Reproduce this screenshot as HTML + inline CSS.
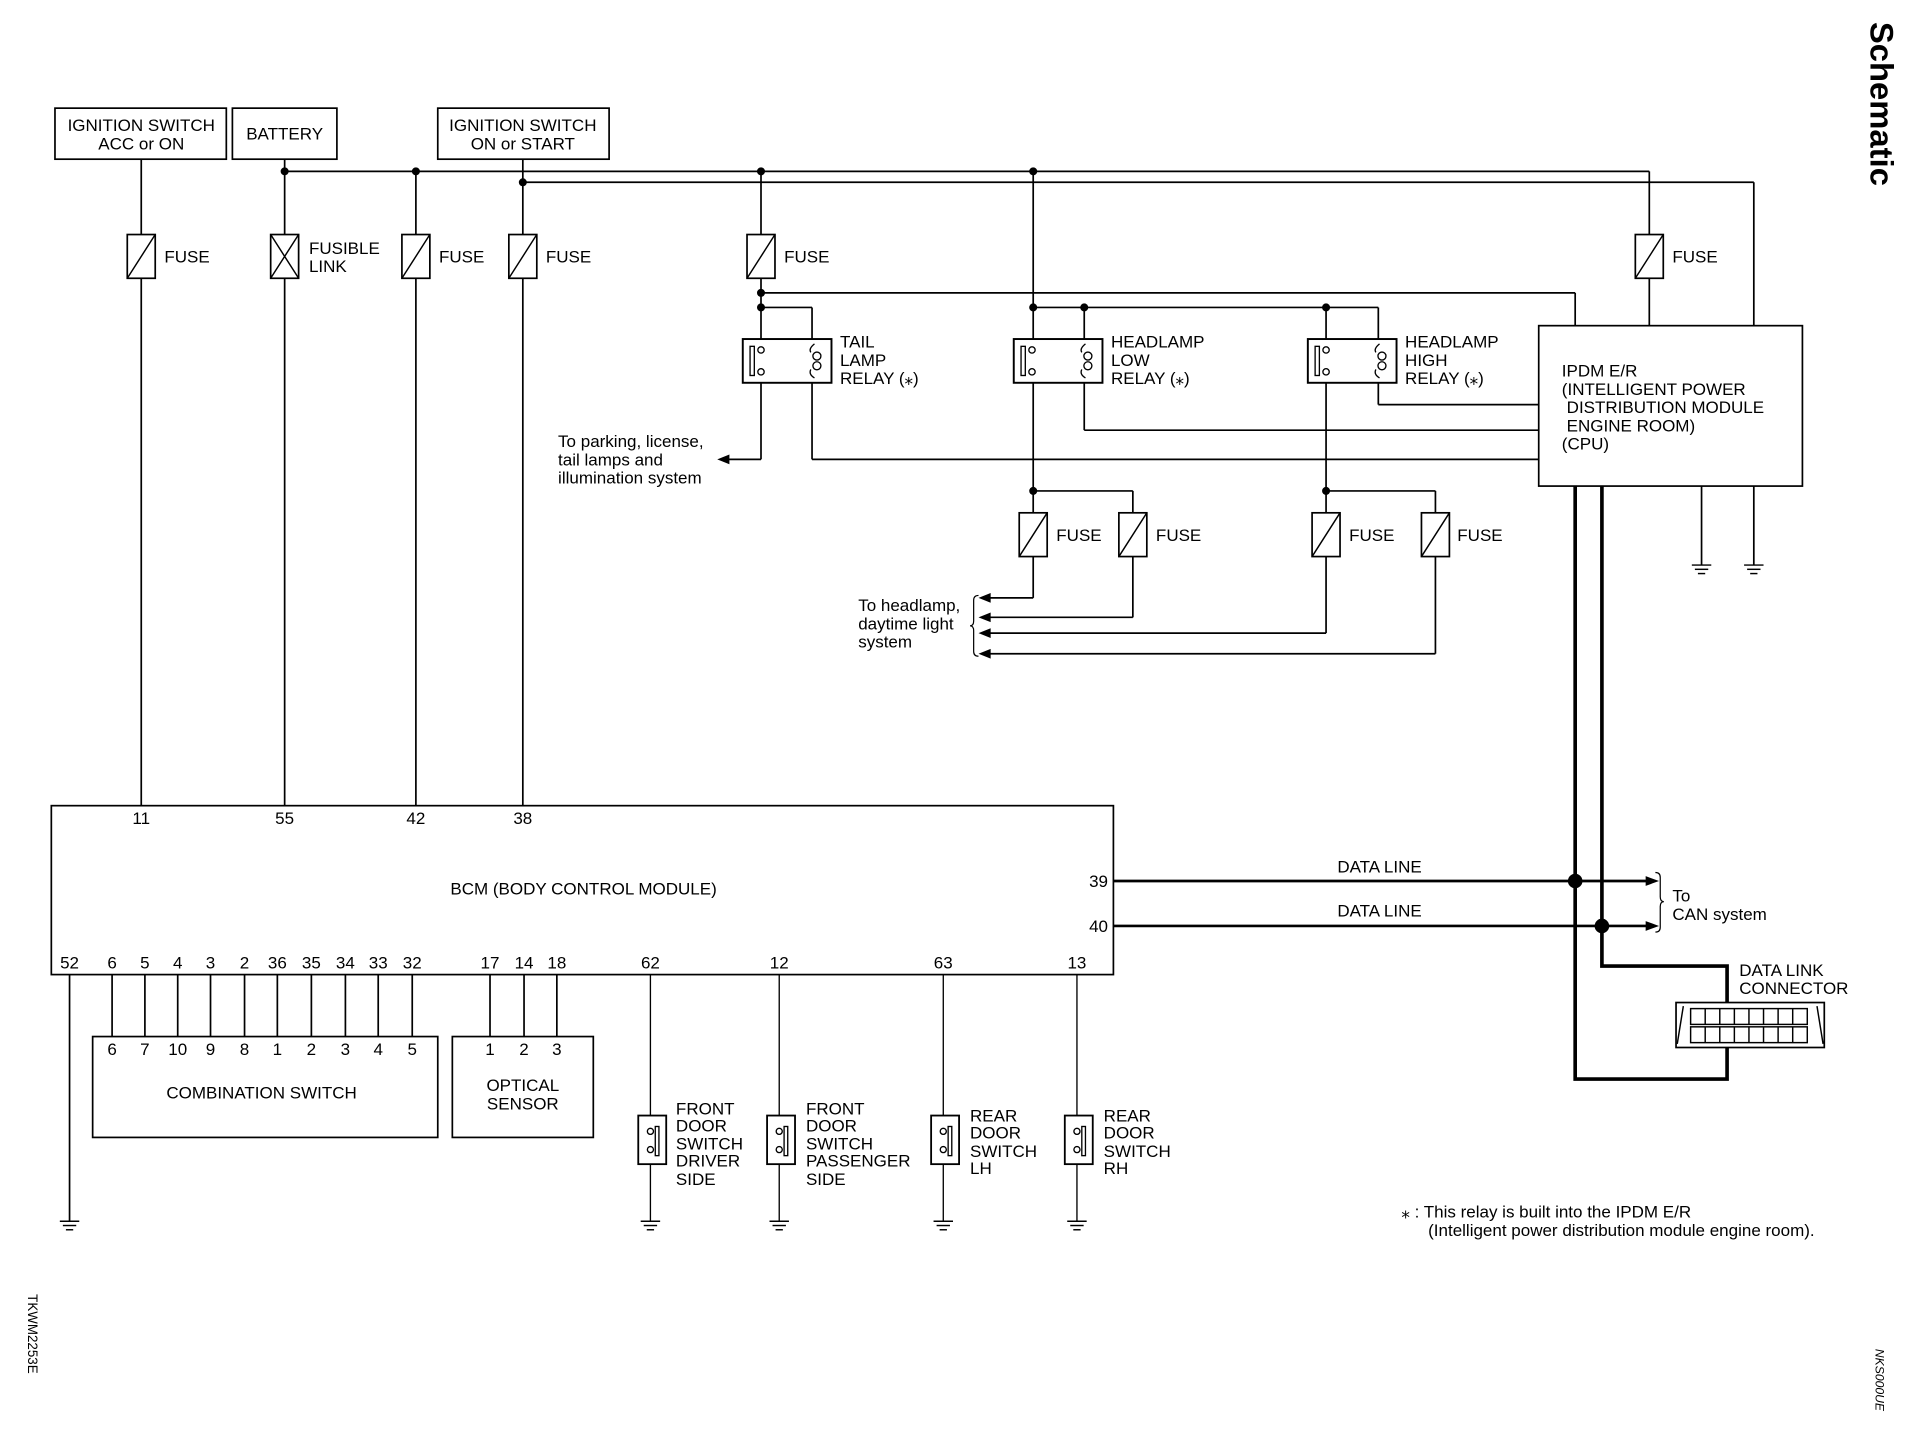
<!DOCTYPE html>
<html><head><meta charset="utf-8"><style>html,body{margin:0;padding:0;background:#fff}svg{display:block}</style></head><body>
<svg width="1906" height="1440" viewBox="0 0 1568 1185" xmlns="http://www.w3.org/2000/svg" font-family="Liberation Sans, Arial, sans-serif" font-size="14">
<defs>
<g id="fuse"><rect x="-11.5" y="0" width="23" height="36" fill="#fff" stroke="#000" stroke-width="1.4"/><line x1="-11.5" y1="36" x2="11.5" y2="0" stroke="#000" stroke-width="1.2"/></g>
<g id="gnd" stroke="#000" stroke-width="1.2"><line x1="-8" y1="0" x2="8" y2="0"/><line x1="-5.5" y1="3.5" x2="5.5" y2="3.5"/><line x1="-3" y1="7" x2="3" y2="7"/></g>
<g id="dsw" stroke="#000" fill="none"><rect x="-10" y="0" width="23" height="40" fill="#fff" stroke-width="1.5"/><circle cx="0" cy="13" r="2.5" stroke-width="1.1"/><circle cx="0" cy="28" r="2.5" stroke-width="1.1"/><rect x="4" y="9" width="3" height="24" stroke-width="1.1"/></g>
<g id="relay" stroke="#000" fill="none">
<rect x="0" y="0" width="73" height="36" fill="#fff" stroke-width="1.6"/>
<rect x="6" y="6" width="3.5" height="24" stroke-width="1.1"/>
<circle cx="15" cy="9" r="2.6" stroke-width="1.1"/><circle cx="15" cy="27" r="2.6" stroke-width="1.1"/>
<circle cx="61" cy="14" r="3.3" stroke-width="1.1"/><circle cx="61" cy="22" r="3.3" stroke-width="1.1"/>
<path d="M59 4 Q54 8 56 11 M56 25 Q54 29 59 32" stroke-width="1.1"/>
</g>
</defs>
<g stroke="#000" fill="none" stroke-width="1.4">
<rect x="45" y="89" width="141" height="42"/><rect x="191" y="89" width="86" height="42"/><rect x="360" y="89" width="141" height="42"/>
<line x1="234" y1="141" x2="1357" y2="141"/><line x1="1357" y1="141" x2="1357" y2="268"/>
<line x1="430" y1="150" x2="1443" y2="150"/><line x1="1443" y1="150" x2="1443" y2="268"/>
<line x1="116" y1="131" x2="116" y2="663"/><line x1="234" y1="131" x2="234" y2="663"/>
<line x1="342" y1="141" x2="342" y2="663"/><line x1="430" y1="131" x2="430" y2="663"/>
<line x1="626" y1="141" x2="626" y2="378"/><line x1="626" y1="378" x2="598" y2="378"/>
<line x1="626" y1="241" x2="1296" y2="241"/><line x1="1296" y1="241" x2="1296" y2="268"/>
<line x1="626" y1="253" x2="668" y2="253"/><line x1="668" y1="253" x2="668" y2="378"/><line x1="668" y1="378" x2="1266" y2="378"/>
<line x1="850" y1="141" x2="850" y2="492"/><line x1="850" y1="492" x2="812" y2="492"/>
<line x1="850" y1="253" x2="1134" y2="253"/>
<line x1="892" y1="253" x2="892" y2="354"/><line x1="892" y1="354" x2="1266" y2="354"/>
<line x1="850" y1="404" x2="932" y2="404"/><line x1="932" y1="404" x2="932" y2="508"/><line x1="932" y1="508" x2="812" y2="508"/>
<line x1="1091" y1="253" x2="1091" y2="521"/><line x1="1091" y1="521" x2="812" y2="521"/>
<line x1="1134" y1="253" x2="1134" y2="333"/><line x1="1134" y1="333" x2="1266" y2="333"/>
<line x1="1091" y1="404" x2="1181" y2="404"/><line x1="1181" y1="404" x2="1181" y2="538"/><line x1="1181" y1="538" x2="812" y2="538"/>
<path d="M805 490 Q801 490 801 494 L801 511 Q801 515 798 515 Q801 515 801 519 L801 536 Q801 540 805 540" stroke-width="1"/>
<rect x="1266" y="268" width="217" height="132"/>
<line x1="1400" y1="400" x2="1400" y2="465"/><line x1="1443" y1="400" x2="1443" y2="465"/>
<rect x="42" y="663" width="874" height="139"/>
<rect x="76" y="853" width="284" height="83"/><rect x="372" y="853" width="116" height="83"/>
<line x1="57" y1="802" x2="57" y2="1005"/>
<line x1="92" y1="802" x2="92" y2="853"/><line x1="119" y1="802" x2="119" y2="853"/><line x1="146" y1="802" x2="146" y2="853"/><line x1="173" y1="802" x2="173" y2="853"/><line x1="201" y1="802" x2="201" y2="853"/><line x1="228" y1="802" x2="228" y2="853"/><line x1="256" y1="802" x2="256" y2="853"/><line x1="284" y1="802" x2="284" y2="853"/><line x1="311" y1="802" x2="311" y2="853"/><line x1="339" y1="802" x2="339" y2="853"/>
<line x1="403" y1="802" x2="403" y2="853"/><line x1="431" y1="802" x2="431" y2="853"/><line x1="458" y1="802" x2="458" y2="853"/>
<line x1="535" y1="802" x2="535" y2="1005" stroke-width="1.1"/><line x1="641" y1="802" x2="641" y2="1005" stroke-width="1.1"/><line x1="776" y1="802" x2="776" y2="1005" stroke-width="1.1"/><line x1="886" y1="802" x2="886" y2="1005" stroke-width="1.1"/>
<line x1="916" y1="725" x2="1358" y2="725" stroke-width="2.2"/><line x1="916" y1="762" x2="1358" y2="762" stroke-width="2.2"/>
<path d="M1296 400 L1296 888 L1421 888 L1421 862" stroke-width="3"/>
<path d="M1318 400 L1318 795 L1421 795 L1421 825" stroke-width="3"/>
<path d="M1362 718 Q1366 718 1366 722 L1366 738 Q1366 742 1369 742 Q1366 742 1366 746 L1366 763 Q1366 767 1362 767" stroke-width="1"/>
<rect x="1379" y="825" width="122" height="37"/>
<rect x="1391" y="830" width="96" height="13" stroke-width="1.2"/><rect x="1391" y="845" width="96" height="13" stroke-width="1.2"/>
<path d="M1403 830V843M1415 830V843M1427 830V843M1439 830V843M1451 830V843M1463 830V843M1475 830V843M1403 845V858M1415 845V858M1427 845V858M1439 845V858M1451 845V858M1463 845V858M1475 845V858M1385 828L1380 859M1495 828L1500 859" stroke-width="1.2"/>
</g>
<g fill="#000">
<path d="M590 378 L600 374 L600 382Z"/>
<path d="M805 492 L815 488 L815 496Z"/><path d="M805 508 L815 504 L815 512Z"/><path d="M805 521 L815 517 L815 525Z"/><path d="M805 538 L815 534 L815 542Z"/>
<path d="M1365 725 L1354 721 L1354 729Z"/><path d="M1365 762 L1354 758 L1354 766Z"/>
<circle cx="234" cy="141" r="3.3"/><circle cx="342" cy="141" r="3.3"/><circle cx="430" cy="150" r="3.3"/><circle cx="626" cy="141" r="3.3"/><circle cx="850" cy="141" r="3.3"/>
<circle cx="626" cy="241" r="3.3"/><circle cx="626" cy="253" r="3.3"/><circle cx="850" cy="253" r="3.3"/><circle cx="892" cy="253" r="3.3"/><circle cx="1091" cy="253" r="3.3"/>
<circle cx="850" cy="404" r="3.3"/><circle cx="1091" cy="404" r="3.3"/>
<circle cx="1296" cy="725" r="6"/><circle cx="1318" cy="762" r="6"/>
</g>
<use href="#fuse" x="116" y="193"/><use href="#fuse" x="342" y="193"/><use href="#fuse" x="430" y="193"/><use href="#fuse" x="626" y="193"/><use href="#fuse" x="1357" y="193"/>
<g><rect x="222.5" y="193" width="23" height="36" fill="#fff" stroke="#000" stroke-width="1.4"/><path d="M222.5 193L245.5 229M222.5 229L245.5 193" stroke="#000" stroke-width="1.2"/></g>
<use href="#fuse" x="850" y="422"/><use href="#fuse" x="932" y="422"/><use href="#fuse" x="1091" y="422"/><use href="#fuse" x="1181" y="422"/>
<use href="#relay" x="611" y="279"/><use href="#relay" x="834" y="279"/><use href="#relay" x="1076" y="279"/>
<use href="#gnd" x="1400" y="465"/><use href="#gnd" x="1443" y="465"/>
<use href="#gnd" x="57" y="1005"/><use href="#gnd" x="535" y="1005"/><use href="#gnd" x="641" y="1005"/><use href="#gnd" x="776" y="1005"/><use href="#gnd" x="886" y="1005"/>
<use href="#dsw" x="535" y="918"/><use href="#dsw" x="641" y="918"/><use href="#dsw" x="776" y="918"/><use href="#dsw" x="886" y="918"/>
<g fill="#000">
<text x="116" y="108" text-anchor="middle">IGNITION SWITCH</text><text x="116" y="123" text-anchor="middle">ACC or ON</text>
<text x="234" y="115" text-anchor="middle">BATTERY</text>
<text x="430" y="108" text-anchor="middle">IGNITION SWITCH</text><text x="430" y="123" text-anchor="middle">ON or START</text>
<text x="135" y="216">FUSE</text><text x="254" y="209">FUSIBLE</text><text x="254" y="224">LINK</text>
<text x="361" y="216">FUSE</text><text x="449" y="216">FUSE</text><text x="645" y="216">FUSE</text><text x="1376" y="216">FUSE</text>
<text x="691" y="286">TAIL</text><text x="691" y="301">LAMP</text><text x="691" y="316">RELAY (⁎)</text>
<text x="914" y="286">HEADLAMP</text><text x="914" y="301">LOW</text><text x="914" y="316">RELAY (⁎)</text>
<text x="1156" y="286">HEADLAMP</text><text x="1156" y="301">HIGH</text><text x="1156" y="316">RELAY (⁎)</text>
<text x="459" y="368">To parking, license,</text><text x="459" y="383">tail lamps and</text><text x="459" y="398">illumination system</text>
<text x="1285" y="310">IPDM E/R</text><text x="1285" y="325">(INTELLIGENT POWER</text><text x="1289" y="340">DISTRIBUTION MODULE</text><text x="1289" y="355">ENGINE ROOM)</text><text x="1285" y="370">(CPU)</text>
<text x="869" y="445">FUSE</text><text x="951" y="445">FUSE</text><text x="1110" y="445">FUSE</text><text x="1199" y="445">FUSE</text>
<text x="706" y="503">To headlamp,</text><text x="706" y="518">daytime light</text><text x="706" y="533">system</text>
<g text-anchor="middle"><text x="116" y="678">11</text><text x="234" y="678">55</text><text x="342" y="678">42</text><text x="430" y="678">38</text>
<text x="480" y="736">BCM (BODY CONTROL MODULE)</text>
<text x="57" y="797">52</text><text x="92" y="797">6</text><text x="119" y="797">5</text><text x="146" y="797">4</text><text x="173" y="797">3</text><text x="201" y="797">2</text><text x="228" y="797">36</text><text x="256" y="797">35</text><text x="284" y="797">34</text><text x="311" y="797">33</text><text x="339" y="797">32</text>
<text x="403" y="797">17</text><text x="431" y="797">14</text><text x="458" y="797">18</text><text x="535" y="797">62</text><text x="641" y="797">12</text><text x="776" y="797">63</text><text x="886" y="797">13</text>
<text x="92" y="868">6</text><text x="119" y="868">7</text><text x="146" y="868">10</text><text x="173" y="868">9</text><text x="201" y="868">8</text><text x="228" y="868">1</text><text x="256" y="868">2</text><text x="284" y="868">3</text><text x="311" y="868">4</text><text x="339" y="868">5</text>
<text x="403" y="868">1</text><text x="431" y="868">2</text><text x="458" y="868">3</text>
<text x="215" y="904">COMBINATION SWITCH</text><text x="430" y="898">OPTICAL</text><text x="430" y="913">SENSOR</text>
<text x="1135" y="718">DATA LINE</text><text x="1135" y="754">DATA LINE</text></g>
<text x="896" y="730">39</text><text x="896" y="767">40</text>
<text x="1376" y="742">To</text><text x="1376" y="757">CAN system</text>
<text x="1431" y="803">DATA LINK</text><text x="1431" y="818">CONNECTOR</text>
<text x="556" y="917">FRONT</text><text x="556" y="931">DOOR</text><text x="556" y="946">SWITCH</text><text x="556" y="960">DRIVER</text><text x="556" y="975">SIDE</text>
<text x="663" y="917">FRONT</text><text x="663" y="931">DOOR</text><text x="663" y="946">SWITCH</text><text x="663" y="960">PASSENGER</text><text x="663" y="975">SIDE</text>
<text x="798" y="923">REAR</text><text x="798" y="937">DOOR</text><text x="798" y="952">SWITCH</text><text x="798" y="966">LH</text>
<text x="908" y="923">REAR</text><text x="908" y="937">DOOR</text><text x="908" y="952">SWITCH</text><text x="908" y="966">RH</text>
<text x="1153" y="1002">⁎ : This relay is built into the IPDM E/R</text><text x="1175" y="1017">(Intelligent power distribution module engine room).</text>
<text transform="translate(1539,18) rotate(90)" font-size="27" font-weight="bold">Schematic</text>
<text transform="translate(23,1065) rotate(90)" font-size="11">TKWM2253E</text>
<text transform="translate(1543,1110) rotate(90)" font-size="10" font-style="italic">NKS000UE</text>
</g>
</svg>
</body></html>
